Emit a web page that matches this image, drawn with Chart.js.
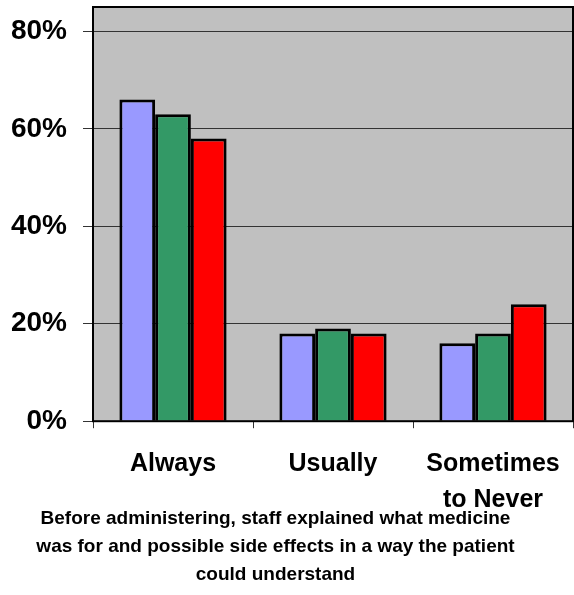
<!DOCTYPE html>
<html>
<head>
<meta charset="utf-8">
<script src="https://cdn.jsdelivr.net/npm/chart.js@4"></script>
<style>
html,body{margin:0;padding:0;background:#fff;}
#wrap{width:574px;height:595px;position:relative;}
</style>
</head>
<body>
<div id="wrap"><canvas id="c" width="574" height="595"></canvas></div>
<script>
const categories = [["Always"], ["Usually"], ["Sometimes", "to Never"]];
const series1 = [66, 18, 16];
const series2 = [63, 19, 18];
const series3 = [58, 18, 24];
const yTicks = [0, 20, 40, 60, 80];
const titleLines = [
  "Before administering, staff explained what medicine",
  "was for and possible side effects in a way the patient",
  "could understand"
];

const FONT = "'Liberation Sans', Arial, Helvetica, sans-serif";

const plotFrame = {
  id: 'plotFrame',
  afterLayout(chart) {
    if (chart.titleBlock) { chart.titleBlock.left = 0; chart.titleBlock.right = 551; }
  },
  beforeDraw(chart) {
    const a = chart.chartArea, ctx = chart.ctx;
    ctx.save();
    ctx.fillStyle = '#C0C0C0';
    ctx.fillRect(a.left, a.top, a.right - a.left, a.bottom - a.top);
    ctx.restore();
  },
  afterDraw(chart) {
    const a = chart.chartArea, ctx = chart.ctx;
    ctx.save();
    ctx.strokeStyle = '#000';
    ctx.lineWidth = 2;
    ctx.strokeRect(a.left, a.top, a.right - a.left, a.bottom - a.top);
    ctx.restore();
  }
};

function zeroPad(scale) {
  scale.paddingTop = 0; scale.paddingBottom = 0;
  scale.paddingLeft = 0; scale.paddingRight = 0;
}

new Chart(document.getElementById('c'), {
  type: 'bar',
  data: {
    labels: categories,
    datasets: [
      { label: 'Series 1', data: series1, backgroundColor: '#9999FF', borderColor: '#000', borderWidth: 3 },
      { label: 'Series 2', data: series2, backgroundColor: '#339966', borderColor: '#000', borderWidth: 3 },
      { label: 'Series 3', data: series3, backgroundColor: '#FF0000', borderColor: '#000', borderWidth: 3 }
    ]
  },
  options: {
    responsive: false,
    animation: false,
    devicePixelRatio: 1,
    layout: { padding: { top: 7, right: 1, left: 0, bottom: 0 } },
    datasets: { bar: { categoryPercentage: 0.67, barPercentage: 1.0 } },
    plugins: {
      legend: { display: false },
      tooltip: { enabled: false },
      title: {
        display: true,
        position: 'bottom',
        text: titleLines,
        color: '#000',
        font: { family: FONT, size: 19, weight: 'bold', lineHeight: 1.47 },
        padding: { top: -6, bottom: 6 }
      }
    },
    scales: {
      x: {
        grid: { display: true, drawOnChartArea: false, drawTicks: true, tickLength: 7, color: '#333', offset: true },
        border: { display: false },
        ticks: { color: '#000', padding: 18, font: { family: FONT, size: 25, weight: 'bold', lineHeight: 1.45 }, maxRotation: 0, autoSkip: false },
        afterFit(scale) { scale.height = 90; zeroPad(scale); }
      },
      y: {
        min: 0,
        max: 85,
        grid: { color: '#333', lineWidth: 1, tickLength: 10, drawTicks: true },
        border: { display: false },
        ticks: {
          stepSize: 20,
          padding: 16,
          color: '#000',
          font: { family: FONT, size: 28, weight: 'bold' },
          callback: v => v + '%'
        },
        afterBuildTicks(scale) { scale.ticks = yTicks.map(v => ({ value: v })); },
        afterFit(scale) { scale.width = 93; zeroPad(scale); }
      }
    }
  },
  plugins: [plotFrame]
});
</script>
</body>
</html>
